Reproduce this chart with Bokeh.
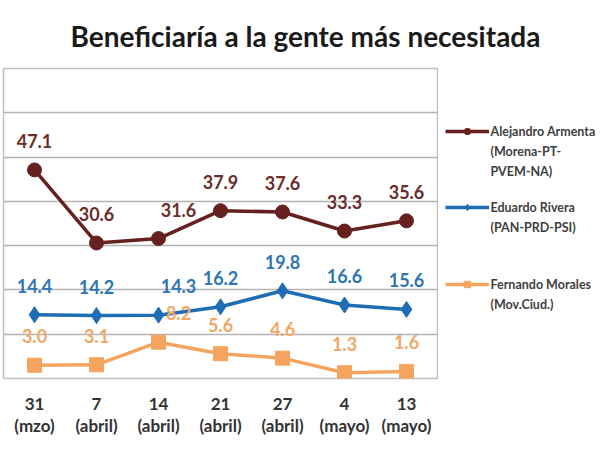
from bokeh.plotting import figure
from bokeh.models import ColumnDataSource, Legend, LegendItem, FixedTicker
from bokeh.layouts import column, row
from bokeh.core.properties import value
from bokeh.embed import file_html
from bokeh.resources import INLINE

# ---- data ----
fechas = ["31\n(mzo)", "7\n(abril)", "14\n(abril)", "21\n(abril)", "27\n(abril)", "4\n(mayo)", "13\n(mayo)"]
armenta = [47.1, 30.6, 31.6, 37.9, 37.6, 33.3, 35.6]
rivera = [14.4, 14.2, 14.3, 16.2, 19.8, 16.6, 15.6]
morales = [3.0, 3.1, 8.2, 5.6, 4.6, 1.3, 1.6]
label_dx = [0, 0, 20, 0, 0, 0, 0]
titulo = "Beneficiaría a la gente más necesitada"
nombres = ["Alejandro Armenta\n(Morena-PT-\nPVEM-NA)", "Eduardo Rivera\n(PAN-PRD-PSI)", "Fernando Morales\n(Mov.Ciud.)"]

FONT = "Lato"
BROWN, BROWN_T = "#66201f", "#6b2c2c"
BLUE, BLUE_T = "#1f6db3", "#2e75b6"
ORANGE, ORANGE_T = "#f4a45e", "#f0a866"
series = [
    (armenta, BROWN, BROWN_T, "circle", 14),
    (rivera, BLUE, BLUE_T, "diamond", 16),
    (morales, ORANGE, ORANGE_T, "square", 14),
]

# ---- title strip ----
pt = figure(width=600, height=67, x_range=(0, 600), y_range=(67, 0),
            output_backend="svg", toolbar_location=None,
            min_border_left=0, min_border_right=0, min_border_top=0, min_border_bottom=0)
pt.axis.visible = False
pt.grid.visible = False
pt.outline_line_color = None
pt.text(x=[305], y=[35], text=[titulo], text_font=value(FONT), text_font_style="bold",
        text_font_size="28px", text_color="#1a1a1a", text_align="center", text_baseline="middle")

# ---- chart ----
p = figure(width=438, height=383, x_range=fechas, y_range=(0, 70),
           output_backend="svg", toolbar_location=None,
           min_border_left=3, min_border_right=1, min_border_top=1, min_border_bottom=72)
p.outline_line_color = "#c0c0c0"
p.outline_line_width = 1.5
p.yaxis.visible = False
p.ygrid.ticker = FixedTicker(ticks=[0, 10, 20, 30, 40, 50, 60, 70])
p.ygrid.grid_line_color = "#b4b4b4"
p.ygrid.grid_line_width = 1.5
p.xgrid.visible = False
p.xaxis.axis_line_color = None
p.xaxis.major_tick_line_color = None
p.xaxis.minor_tick_line_color = None
p.xaxis.major_label_text_font = FONT
p.xaxis.major_label_text_font_style = "bold"
p.xaxis.major_label_text_font_size = "17px"
p.xaxis.major_label_text_color = "#333333"
p.xaxis.major_label_text_line_height = 1.08
p.xaxis.major_label_standoff = 8
p.x_range.range_padding = 0

for vals, col, tcol, mk, sz in series:
    src = ColumnDataSource(dict(x=fechas, y=vals, t=[f"{v:.1f}" for v in vals], dx=label_dx))
    p.line("x", "y", source=src, line_color=col, line_width=3.5)
    p.scatter("x", "y", source=src, marker=mk, size=sz, fill_color=col, line_color=col)
    p.text("x", "y", text="t", source=src, x_offset="dx", y_offset=-29,
           text_font=value(FONT), text_font_style="bold", text_font_size="18px",
           text_color=tcol, text_align="center", text_baseline="middle")

# ---- legend strip (coordinates = page pixels) ----
pl = figure(width=162, height=383, x_range=(438, 600), y_range=(378, 68),
            output_backend="svg", toolbar_location=None,
            min_border_left=0, min_border_right=0, min_border_top=1, min_border_bottom=72)
pl.axis.visible = False
pl.grid.visible = False
pl.outline_line_color = None
item_centers = [131, 207, 284]
line_step = 20
for (vals, col, tcol, mk, sz), nm, cy in zip(series, nombres, item_centers):
    off = ColumnDataSource(dict(x=[0], y=[0]))
    ln = pl.line("x", "y", source=off, line_color=col, line_width=3.5)
    sc = pl.scatter("x", "y", source=off, marker=mk, size=sz * 0.6, fill_color=col, line_color=col)
    lg = Legend(items=[LegendItem(label=" ", renderers=[ln, sc])], location=(7, 378 - cy - 8),
                glyph_width=44, glyph_height=16, label_height=16, label_standoff=0,
                padding=0, margin=0, spacing=0,
                border_line_color=None, background_fill_alpha=0, label_text_font_size="10px")
    pl.add_layout(lg, "center")
    lines = nm.split("\n")
    pl.text(x=[490] * len(lines), y=[cy + i * line_step for i in range(len(lines))], text=lines,
            text_font=value(FONT), text_font_style="bold", text_font_size="12.5px",
            text_color="#404040", text_align="left", text_baseline="middle")

layout = column(pt, row(p, pl))
open("out.html", "w").write(file_html(layout, INLINE))
